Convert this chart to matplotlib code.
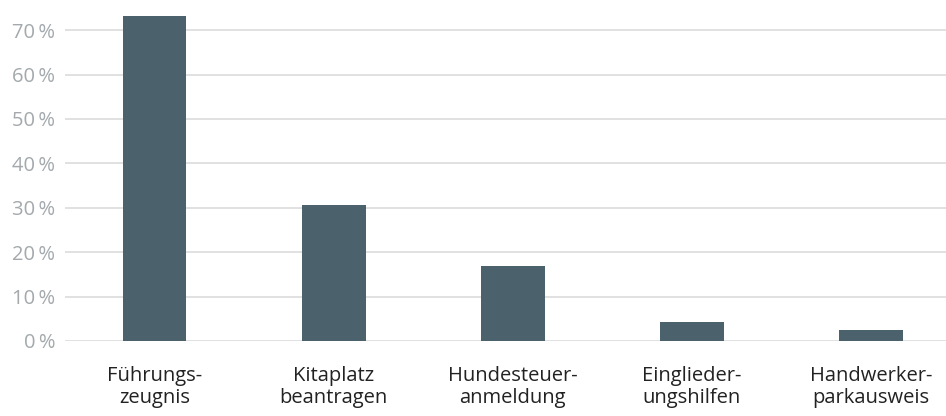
import numpy as np
import matplotlib
matplotlib.use('Agg')
import matplotlib.pyplot as plt
from matplotlib.ticker import FuncFormatter

### Data
categories = ['Führungs-\nzeugnis', 'Kitaplatz\nbeantragen', 'Hundesteuer-\nanmeldung',
              'Einglieder-\nungshilfen', 'Handwerker-\nparkausweis']
values = [73.2, 30.7, 17.0, 4.3, 2.5]
yticks = [0, 10, 20, 30, 40, 50, 60, 70]

plt.rcParams['font.family'] = ['Open Sans', 'DejaVu Sans']

fig = plt.figure(figsize=(9.46, 4.16), dpi=100)
ax = fig.add_axes([65 / 946, 1 - 341 / 416, 1 - 65 / 946, 341 / 416])

x = np.arange(len(values))
ax.bar(x, values, width=0.357, color='#4b616b', zorder=3)

ax.set_xlim(-0.5, 4.42)
ax.set_ylim(0, 76.8)

### y ticks as "70 %" in light grey, light horizontal grid
ax.set_yticks(yticks)
ax.yaxis.set_major_formatter(FuncFormatter(lambda v, p: '%d\u2009%%' % v))
ax.grid(axis='y', color='#dedede', linewidth=1.3, zorder=0)
ax.set_xticks(x)
ax.set_xticklabels(categories, fontsize=14.5, color='#222222', linespacing=1.15)

ax.tick_params(axis='y', length=0, pad=7, labelsize=14.5, labelcolor='#a3a9ac')
ax.tick_params(axis='x', length=0, pad=18)
for s in ax.spines.values():
    s.set_visible(False)

fig.savefig('out.png', dpi=100)
